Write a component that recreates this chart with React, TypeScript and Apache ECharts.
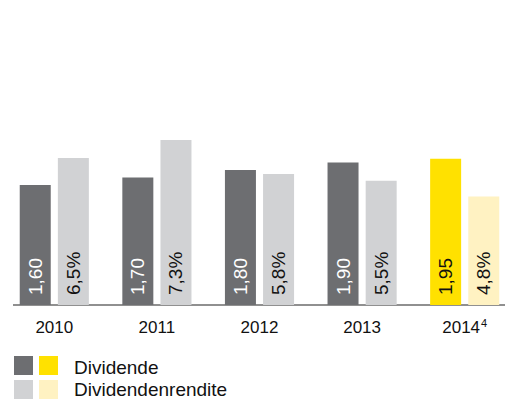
import React, { useEffect, useRef } from "react";
import * as echarts from "echarts";

const years = ["2010", "2011", "2012", "2013", "2014"];
const yearNotes = ["", "", "", "", "4"];
const dividende = [1.6, 1.7, 1.8, 1.9, 1.95];
const rendite = [6.5, 7.3, 5.8, 5.5, 4.8];
const legendNames = ["Dividende", "Dividendenrendite"];

const DARK = "#6d6e71";
const LIGHT = "#d1d2d4";
const YELLOW = "#ffe100";
const PALE = "#fff2c2";
const FONT = "Liberation Sans, Arial, sans-serif";

export default function App() {
  const ref = useRef<HTMLDivElement>(null);
  useEffect(() => {
    if (!ref.current) return;
    const chart = echarts.init(ref.current, undefined, { renderer: "svg" });
    const last = years.length - 1;
    const fmt = (v: number, d: number) => v.toFixed(d).replace(".", ",");
    chart.setOption({
      animation: false,
      textStyle: { fontFamily: FONT },
      grid: { left: 3, width: 513, top: 5, bottom: 96, containLabel: false },
      xAxis: {
        type: "category",
        data: years,
        axisLine: { show: false },
        axisTick: { show: false },
        axisLabel: {
          interval: 0,
          color: "#111",
          fontSize: 17,
          lineHeight: 20,
          fontFamily: FONT,
          margin: 12,
          formatter: (v: string, i: number) =>
            yearNotes[i] ? `{y|${v}}{s|${yearNotes[i]}}` : `{y|${v}}`,
          rich: {
            y: { fontSize: 17, lineHeight: 20, color: "#111", fontFamily: FONT },
            s: { fontSize: 11, verticalAlign: "top", color: "#111", fontFamily: FONT, padding: [0, 0, 0, 1] },
          },
        },
      },
      yAxis: [
        { type: "value", min: 0, max: 4, show: false },
        { type: "value", min: 0, max: 13.27, show: false },
      ],
      series: [
        {
          type: "bar",
          yAxisIndex: 0,
          barWidth: 31,
          barGap: "23%",
          data: dividende.map((v, i) => ({
            value: v,
            itemStyle: { color: i === last ? YELLOW : DARK },
            label: { color: i === last ? "#111" : "#fff" },
          })),
          label: {
            show: true,
            position: "insideBottom",
            rotate: 90,
            align: "left",
            verticalAlign: "middle",
            distance: 10,
            fontSize: 19,
            fontFamily: FONT,
            formatter: (p: any) => fmt(p.value, 2),
          },
        },
        {
          type: "bar",
          yAxisIndex: 1,
          barWidth: 31,
          data: rendite.map((v, i) => ({
            value: v,
            itemStyle: { color: i === last ? PALE : LIGHT },
          })),
          label: {
            show: true,
            position: "insideBottom",
            rotate: 90,
            align: "left",
            verticalAlign: "middle",
            distance: 10,
            fontSize: 19,
            color: "#111",
            fontFamily: FONT,
            formatter: (p: any) => fmt(p.value, 1) + "%",
          },
        },
      ],
      graphic: [
        { type: "line", shape: { x1: 13, y1: 305, x2: 505, y2: 305 }, style: { stroke: "#222", lineWidth: 1.2 } },
        { type: "rect", shape: { x: 14, y: 356, width: 19, height: 19 }, style: { fill: DARK } },
        { type: "rect", shape: { x: 39, y: 356, width: 19, height: 19 }, style: { fill: YELLOW } },
        { type: "rect", shape: { x: 14, y: 380, width: 19, height: 19 }, style: { fill: LIGHT } },
        { type: "rect", shape: { x: 39, y: 380, width: 19, height: 19 }, style: { fill: PALE } },
        { type: "text", x: 74, y: 367, style: { text: legendNames[0], fontSize: 19, fontFamily: FONT, fill: "#111", verticalAlign: "middle" } },
        { type: "text", x: 74, y: 389, style: { text: legendNames[1], fontSize: 19, fontFamily: FONT, fill: "#111", verticalAlign: "middle" } },
      ],
    });
    return () => chart.dispose();
  }, []);
  return (
    <div style={{ position: "absolute", left: 0, top: 0, width: 505, height: 401, overflow: "hidden" }}>
      <div ref={ref} style={{ width: 520, height: 401 }} />
    </div>
  );
}
